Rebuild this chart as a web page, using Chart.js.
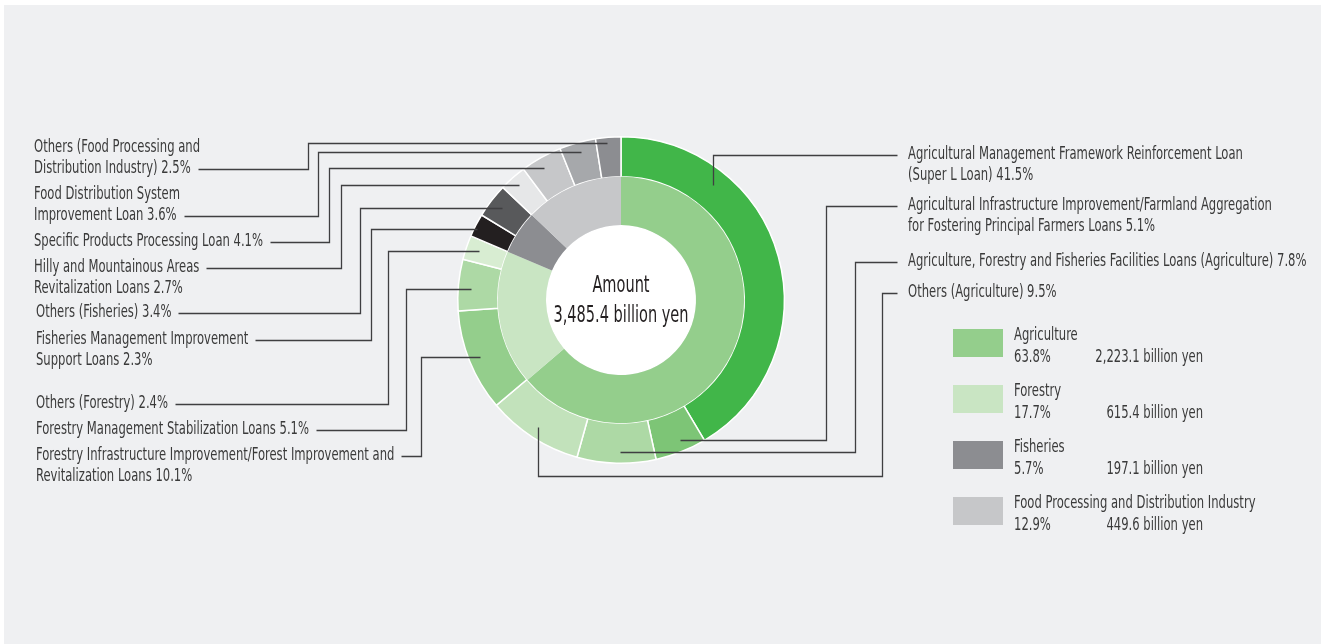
<!DOCTYPE html>
<html>
<head>
<meta charset="utf-8">
<script src="https://cdn.jsdelivr.net/npm/chart.js@4"></script>
<style>
  html, body { margin: 0; padding: 0; background: #fff; }
  #panel { position: absolute; left: 4px; top: 5px; right: 0; bottom: 0; background: #eff0f2; }
  #LoanChart { position: absolute; left: 0; top: 0; }
</style>
</head>
<body>
<div id="panel"></div>
<canvas id="LoanChart" width="1321" height="644"></canvas>
<script>
// inner ring: sectors
const categories = ['Agriculture', 'Forestry', 'Fisheries', 'Food Processing and Distribution Industry'];
const categoryShares = [63.8, 17.7, 5.7, 12.9];
const categoryAmounts = [2223.1, 615.4, 197.1, 449.6];
const totalAmount = 3485.4;

// outer ring: loan types, clockwise from the top
const loanNames = [
  'Agricultural Management Framework Reinforcement Loan\n(Super L Loan)',
  'Agricultural Infrastructure Improvement/Farmland Aggregation\nfor Fostering Principal Farmers Loans',
  'Agriculture, Forestry and Fisheries Facilities Loans (Agriculture)',
  'Others (Agriculture)',
  'Forestry Infrastructure Improvement/Forest Improvement and\nRevitalization Loans',
  'Forestry Management Stabilization Loans',
  'Others (Forestry)',
  'Fisheries Management Improvement\nSupport Loans',
  'Others (Fisheries)',
  'Hilly and Mountainous Areas\nRevitalization Loans',
  'Specific Products Processing Loan',
  'Food Distribution System\nImprovement Loan',
  'Others (Food Processing and\nDistribution Industry)'
];
const loanShares = [41.5, 5.1, 7.8, 9.5, 10.1, 5.1, 2.4, 2.3, 3.4, 2.7, 4.1, 3.6, 2.5];

const categoryColors = ['#94ce8c', '#c9e5c3', '#8c8d91', '#c6c7c9'];
const loanColors = ['#41b649', '#7dc576', '#add9a5', '#c2e2bb', '#94ce8c', '#add9a5', '#d8edd2',
  '#231f20', '#58595b', '#e6e7e8', '#c6c7c9', '#a6a8ab', '#8c8d91'];

// where each label sits and how its leader line runs (a/r = spot inside the slice)
const labelLayout = [
  { x: 908, y: 155, path: 'v', a: 0.26, r: 0.6 },
  { x: 908, y: 206, path: 'h', elbow: 826, a: 0.42, r: 0.71 },
  { x: 908, y: 262, path: 'h', elbow: 855, a: 0.45, r: 0.71 },
  { x: 908, y: 293, path: 'u', elbow: 882, drop: 476, a: 0.51, r: 0.71 },
  { x: 36, y: 456, path: 'l', attach: 0, elbow: 421, a: 0.5, r: 0.72 },
  { x: 36, y: 430, path: 'l', attach: 0, elbow: 406, a: 0.43, r: 0.69 },
  { x: 36, y: 404, path: 'l', attach: 0, elbow: 388, a: 0.54, r: 0.68 },
  { x: 36, y: 340, path: 'l', attach: 0, elbow: 371, a: 0.36, r: 0.94 },
  { x: 36, y: 313, path: 'l', attach: 0, elbow: 360, a: 0.51, r: 0.69 },
  { x: 34, y: 268, path: 'l', attach: 0, elbow: 341, a: 0.5, r: 0.76 },
  { x: 34, y: 242, path: 'l', attach: 0, elbow: 329, a: 0.44, r: 0.74 },
  { x: 34, y: 195, path: 'l', attach: 1, elbow: 318, a: 0.53, r: 0.76 },
  { x: 34, y: 148, path: 'l', attach: 1, elbow: 308, a: 0.43, r: 0.85 }
];

const FONT = "'DejaVu Sans Condensed', sans-serif";
const TEXT = '#3a3a3a';
const LINE_H = 20.5;

function fmt(v) {
  return v.toLocaleString('en-US', { minimumFractionDigits: 1, maximumFractionDigits: 1 });
}

// squeeze text sideways so it looks like the condensed face of the original
function drawText(ctx, str, x, y, sx, align) {
  ctx.save();
  ctx.translate(x, y);
  ctx.scale(sx, 1);
  ctx.textAlign = align || 'left';
  ctx.fillText(str, 0, 0);
  ctx.restore();
}

const labelsPlugin = {
  id: 'loanLabels',
  beforeDatasetsDraw(chart) {
    // white hole in the middle
    const a = chart.getDatasetMeta(1).data[0];
    const ctx = chart.ctx;
    ctx.save();
    ctx.fillStyle = '#ffffff';
    ctx.beginPath();
    ctx.arc(a.x, a.y, a.innerRadius, 0, Math.PI * 2);
    ctx.fill();
    ctx.restore();
  },
  afterDraw(chart) {
    const ctx = chart.ctx;
    const arcs = chart.getDatasetMeta(0).data;
    ctx.save();
    ctx.font = '17px ' + FONT;
    ctx.textBaseline = 'middle';
    const sx = 229 / ctx.measureText('Specific Products Processing Loan 4.1%').width;
    ctx.strokeStyle = '#3f3f41';
    ctx.lineWidth = 1.3;
    loanNames.forEach((name, i) => {
      const L = labelLayout[i];
      const lines = (name + ' ' + loanShares[i].toFixed(1) + '%').split('\n');
      ctx.fillStyle = TEXT;
      lines.forEach((t, k) => drawText(ctx, t, L.x, L.y + k * LINE_H, sx));

      const arc = arcs[i];
      const ang = arc.startAngle + (arc.endAngle - arc.startAngle) * L.a;
      const rad = arc.innerRadius + (arc.outerRadius - arc.innerRadius) * L.r;
      const ex = arc.x + Math.cos(ang) * rad;
      const ey = arc.y + Math.sin(ang) * rad;

      const pts = [[ex, ey]];
      if (L.path === 'l') {
        const ly = L.y + (L.attach || 0) * LINE_H;
        const tx = L.x + ctx.measureText(lines[L.attach || 0]).width * sx + 7;
        pts.push([L.elbow, ey], [L.elbow, ly], [tx, ly]);
      } else if (L.path === 'v') {
        pts.push([ex, L.y], [L.x - 11, L.y]);
      } else if (L.path === 'h') {
        pts.push([L.elbow, ey], [L.elbow, L.y], [L.x - 11, L.y]);
      } else {
        pts.push([ex, L.drop], [L.elbow, L.drop], [L.elbow, L.y], [L.x - 11, L.y]);
      }
      ctx.beginPath();
      pts.forEach((p, k) => {
        const px = Math.round(p[0]) + 0.5, py = Math.round(p[1]) + 0.5;
        if (k === 0) ctx.moveTo(px, py); else ctx.lineTo(px, py);
      });
      ctx.stroke();
    });

    // legend
    categories.forEach((cat, i) => {
      const top = 329 + i * 56;
      ctx.fillStyle = categoryColors[i];
      ctx.fillRect(953, top, 50, 28);
      ctx.fillStyle = TEXT;
      drawText(ctx, cat, 1014, top + 7, sx);
      drawText(ctx, categoryShares[i].toFixed(1) + '%', 1014, top + 29, sx);
      drawText(ctx, fmt(categoryAmounts[i]) + ' billion yen', 1203, top + 29, sx, 'right');
    });

    // centre text
    const c = arcs[0];
    ctx.fillStyle = '#231f20';
    ctx.font = '23px ' + FONT;
    const cx = 135 / ctx.measureText('3,485.4 billion yen').width;
    drawText(ctx, 'Amount', c.x, c.y - 14, cx, 'center');
    drawText(ctx, fmt(totalAmount) + ' billion yen', c.x, c.y + 16, cx, 'center');
    ctx.restore();
  }
};

const ctx = document.getElementById('LoanChart');
const loanChart = new Chart(ctx, {
  type: 'doughnut',
  data: {
    labels: loanNames,
    datasets: [{
      label: 'Loans',
      data: loanShares,
      backgroundColor: loanColors,
      borderColor: '#ffffff',
      borderWidth: 1.5,
      weight: 40,
      order: 1
    },
    {
      label: 'Sectors',
      data: categoryShares,
      backgroundColor: categoryColors,
      borderWidth: 0,
      weight: 48,
      order: 0
    }]
  },
  options: {
    responsive: false,
    animation: false,
    cutout: 75,
    layout: { padding: { left: 457, right: 536, top: 136, bottom: 180 } },
    plugins: {
      legend: { display: false },
      tooltip: { enabled: false }
    }
  },
  plugins: [labelsPlugin]
});
</script>
</body>
</html>
